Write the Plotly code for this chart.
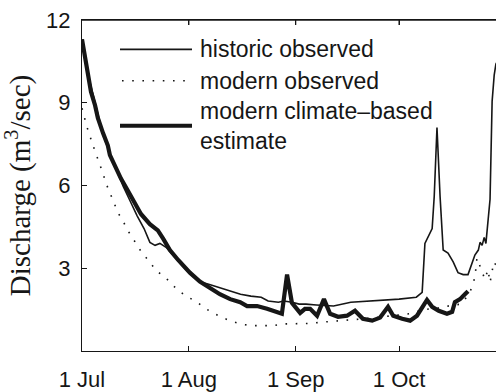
"""Discharge hydrograph: historic vs modern observed vs climate-based estimate"""

import pandas as pd
import plotly.graph_objs as go

# days after 1 Jul, discharge in m3/sec
hist_day = [0, 2, 4, 6, 8, 10, 12, 14, 16, 18, 19.7, 21.2, 22.6, 24.4, 27, 28.4,
            31, 34, 37, 40, 43, 46, 49, 52, 54, 57, 58.5, 61, 63, 65, 68, 73, 78,
            83, 87, 92, 97, 98.7, 99.5, 100.4, 101.6, 102.2, 103, 103.9, 104.8,
            106.2, 107.7, 109.1, 110.6, 112, 113.2, 114, 115, 115.5, 116.1, 116.7,
            117.2, 117.8, 118.4, 119, 119.6, 120.1, 121]
hist_q = [11.3, 9.9, 8.9, 7.9, 7.2, 6.55, 5.96, 5.43, 4.9, 4.44, 3.94, 3.83, 3.9,
          3.76, 3.38, 3.19, 2.84, 2.52, 2.41, 2.3, 2.17, 2.06, 1.99, 1.95, 1.81,
          1.77, 1.81, 1.77, 1.7, 1.7, 1.67, 1.63, 1.77, 1.81, 1.85, 1.88, 1.95,
          2.13, 3.9, 4.12, 4.44, 5.6, 8.1, 5.6, 3.66, 3.55, 3.23, 2.84, 2.77, 2.77,
          3.23, 3.48, 3.66, 3.94, 3.83, 4.12, 3.9, 4.65, 5.5, 9.05, 10.0, 10.4, 10.6]

modobs_day = [0, 1.5, 3.2, 4.1, 5.2, 6.1, 7, 8.1, 9.3, 10.5, 11.9, 13.1, 14.8, 16.3,
              18, 19.7, 21.8, 24, 26.1, 28.4, 30.8, 33.4, 35.7, 38, 40.9, 43.8,
              46.7, 49.6, 52.5, 55.4, 58.3, 62, 66, 70, 75, 80, 85, 90, 95, 99,
              103, 107, 110, 112.5, 113.2, 114, 114.6, 115.8, 116.9, 117.8, 118.4,
              119.5, 120.2]
modobs_q = [8.8, 8.1, 7.45, 7.14, 6.78, 6.43, 6.07, 5.72, 5.36, 5.0, 4.72, 4.4,
            4.08, 3.76, 3.48, 3.2, 2.88, 2.7, 2.41, 2.15, 1.95, 1.77, 1.55, 1.38,
            1.2, 1.06, 0.96, 0.92, 0.92, 0.92, 0.98, 1.0, 1.0, 1.05, 1.1, 1.15,
            1.2, 1.28, 1.35, 1.5, 1.55, 1.65, 1.7, 2.1, 2.34, 2.66, 3.37, 2.98,
            2.6, 2.95, 2.48, 3.23, 3.1]

est_day = [0, 0.9, 1.7, 2.6, 3.8, 4.6, 6.1, 7.5, 8.1, 9.9, 11.3, 13.4, 15.4, 17.1,
           19.7, 22, 23.5, 25.5, 27.9, 31.3, 34.2, 37.1, 40, 43, 45.9, 47.9, 50.8,
           53.7, 56.6, 58, 59.5, 60.9, 63.3, 64.7, 66.2, 68.2, 70.2, 72, 74.3,
           76.9, 79.2, 81.5, 84.2, 86.5, 88.8, 90.3, 92.9, 95.2, 97.2, 98.7,
           100.1, 101.6, 103.5, 105.9, 107.4, 108.2, 109.7, 111.1, 112]
est_q = [11.3, 10.6, 9.94, 9.4, 8.9, 8.45, 7.9, 7.45, 7.1, 6.57, 6.25, 5.79, 5.36,
         4.97, 4.6, 4.37, 4.08, 3.66, 3.3, 2.84, 2.52, 2.3, 2.06, 1.88, 1.77,
         1.63, 1.63, 1.53, 1.42, 1.35, 2.77, 1.75, 1.38, 1.53, 1.53, 1.28, 1.88,
         1.35, 1.24, 1.28, 1.46, 1.17, 1.1, 1.21, 1.6, 1.28, 1.17, 1.1, 1.28,
         1.55, 1.85, 1.6, 1.46, 1.35, 1.42, 1.77, 1.88, 2.06, 2.17]

y_ticks = [3, 6, 9, 12]
x_ticks = ["2001-07-01", "2001-08-01", "2001-09-01", "2001-10-01"]

start = pd.Timestamp("2001-07-01")


def to_dates(days):
    return start + pd.to_timedelta(days, unit="D")


ink = "#161616"
sans = "Liberation Sans, Arial, sans-serif"
serif = "Liberation Serif, Times New Roman, serif"
dots = "1.6px,8.6px"

traces = [
    go.Scatter(x=to_dates(modobs_day), y=modobs_q, mode="lines",
               line=dict(color=ink, width=1.6, dash=dots)),
    go.Scatter(x=to_dates(hist_day), y=hist_q, mode="lines",
               line=dict(color=ink, width=1.6)),
    go.Scatter(x=to_dates(est_day), y=est_q, mode="lines",
               line=dict(color=ink, width=4.2)),
]

W, H = 496, 392
L, R, T, B = 82, 496, 20, 358


def px(x):
    return (x - L) / (R - L)


def py(y):
    return (B - y) / (B - T)


# top frame line with inward ticks (matlab-style box)
frame_shapes = [dict(type="line", xref="paper", yref="paper", x0=0, x1=1,
                     y0=1, y1=1, line=dict(color=ink, width=1.3))]
frame_shapes += [dict(type="line", xref="x", yref="paper", x0=t, x1=t,
                      y0=1, y1=py(T + 5), line=dict(color=ink, width=1.2))
                 for t in x_ticks[1:]]

# legend drawn by hand so the line samples can be long
legend_shapes = [
    dict(type="line", xref="paper", yref="paper", x0=px(120), x1=px(192),
         y0=py(50), y1=py(50), line=dict(color=ink, width=1.6)),
    dict(type="line", xref="paper", yref="paper", x0=px(122), x1=px(192),
         y0=py(82), y1=py(82), line=dict(color=ink, width=1.6, dash=dots)),
    dict(type="line", xref="paper", yref="paper", x0=px(120), x1=px(192),
         y0=py(128), y1=py(128), line=dict(color=ink, width=4.2)),
]
legend_texts = [
    ("historic observed", 50),
    ("modern observed", 82),
    ("modern climate–based<br>estimate", 128),
]
annotations = [
    dict(text=t, xref="paper", yref="paper", x=px(198), y=py(yy), xanchor="left",
         yanchor="middle", align="left", showarrow=False,
         font=dict(family=sans, size=23, color=ink))
    for t, yy in legend_texts
]

layout = go.Layout(
    width=W, height=H,
    margin=go.layout.Margin(l=L, r=W - R, t=T, b=H - B, pad=0),
    paper_bgcolor="white", plot_bgcolor="white",
    showlegend=False, hovermode=False,
    font=dict(family=sans, size=22, color=ink),
    xaxis=dict(type="date", range=["2001-07-01", "2001-10-29 03:00"],
               tickvals=x_ticks, tickformat="%-d %b",
               ticks="inside", ticklen=5, tickcolor=ink, tickwidth=1.2,
               showline=True, linecolor=ink, linewidth=1.3, mirror="ticks",
               showgrid=False, zeroline=False, ticklabelstandoff=8),
    yaxis=dict(range=[0, 12], tickvals=y_ticks, ticks="inside", ticklen=5,
               tickcolor=ink, tickwidth=1.2, showline=True, linecolor=ink,
               linewidth=1.3, showgrid=False, zeroline=False,
               ticklabelstandoff=6,
               title=dict(text="Discharge (m<sup>3</sup>/sec)", standoff=13,
                          font=dict(family=serif, size=29, color=ink))),
    shapes=frame_shapes + legend_shapes,
    annotations=annotations,
)

fig = go.Figure(data=traces, layout=layout)
# the page body has an 8px default margin; drop it so the figure fills the window
fig.write_html("out.html", config={"displayModeBar": False},
               post_script="document.body.style.margin='0';"
                           "document.body.style.overflow='hidden';")
